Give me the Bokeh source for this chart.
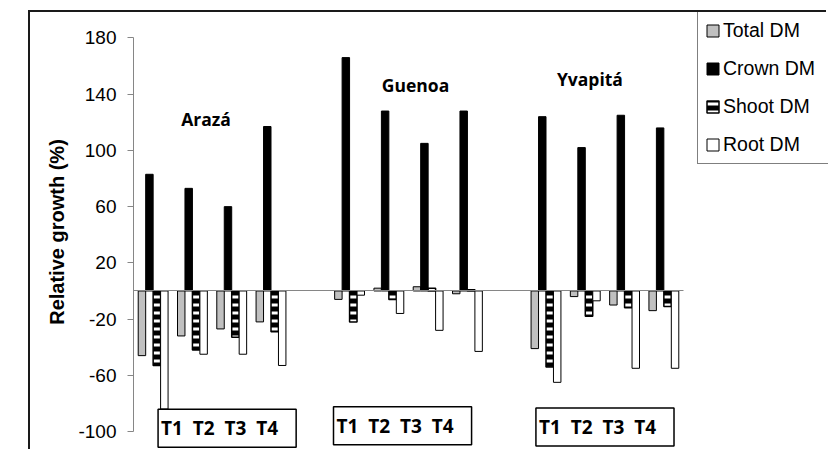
from bokeh.plotting import figure
from bokeh.models import (ColumnDataSource, Range1d, FixedTicker, Legend,
                          PrintfTickFormatter)
from bokeh.transform import dodge
from bokeh.core.properties import value
from bokeh.embed import file_html
from bokeh.resources import INLINE

# ---------------- data ----------------
groups = ["Arazá", "Guenoa", "Yvapitá"]
treatments = ["T1", "T2", "T3", "T4"]
series_names = ["Total DM", "Crown DM", "Shoot DM", "Root DM"]
total_dm = [-46, -32, -27, -22, -6, 2, 3, -2, -41, -4, -10, -14]
crown_dm = [83, 73, 60, 117, 166, 128, 105, 128, 124, 102, 125, 116]
shoot_dm = [-53, -42, -33, -29, -22, -6, 2, 0.8, -54, -18, -12, -11]
root_dm = [-84, -45, -45, -53, -3, -16, -28, -43, -65, -7, -55, -55]
y_ticks = [-100, -60, -20, 20, 60, 100, 140, 180]
y_axis_title = "Relative growth (%)"

# category slots: 4 treatments per group, one empty slot between groups
slot = len(treatments) + 1
xpos = [gi * slot + ti + 0.5 for gi in range(len(groups)) for ti in range(len(treatments))]
group_centers = [gi * slot + len(treatments) / 2 for gi in range(len(groups))]
n_slots = len(groups) * slot - 1

source = ColumnDataSource(dict(x=xpos, total=total_dm, crown=crown_dm,
                               shoot=shoot_dm, root=root_dm))

p = figure(width=798, height=439,
           x_range=Range1d(0, n_slots * 695 / 550),
           y_range=Range1d(-114.2, 198.1),
           output_backend="svg", toolbar_location=None,
           min_border_left=103, min_border_right=0,
           min_border_top=0, min_border_bottom=0)
p.margin = (12, 0, 0, 30)
p.styles = {"box-shadow": "-2px -2px 0 0 #1a1a1a"}
p.xgrid.visible = False
p.ygrid.visible = False
p.outline_line_color = None
p.background_fill_color = "white"
p.border_fill_color = "white"

# category axis drawn as the zero line
xa = p.xaxis[0]
xa.fixed_location = 0
xa.bounds = (0, n_slots)
xa.ticker = FixedTicker(ticks=[])
xa.major_tick_out = 0
xa.major_tick_in = 0
xa.minor_tick_out = 0
xa.minor_tick_in = 0
xa.major_label_standoff = 0
xa.major_label_text_font_size = "0px"
xa.axis_line_color = "#868686"
xa.axis_line_width = 1

# y axis
ax = p.yaxis[0]
ax.ticker = FixedTicker(ticks=y_ticks)
ax.formatter = PrintfTickFormatter(format="%d")
ax.bounds = (y_ticks[0], y_ticks[-1])
ax.major_tick_out = 6
ax.major_tick_in = 0
ax.minor_tick_out = 0
ax.minor_tick_in = 0
ax.axis_line_color = "#868686"
ax.major_tick_line_color = "#868686"
ax.major_label_text_font = "Liberation Sans"
ax.major_label_text_font_size = "19px"
ax.major_label_text_color = "black"
ax.major_label_standoff = 11
ax.axis_label = y_axis_title
ax.axis_label_text_font = "Liberation Sans"
ax.axis_label_text_font_style = "bold"
ax.axis_label_text_font_size = "20px"
ax.axis_label_text_color = "black"
ax.axis_label_standoff = 7

w = 0.19
r_total = p.vbar(x=dodge("x", -0.285), top="total", width=w, source=source,
                 fill_color="#C0C0C0", line_color="black", line_width=1)
r_crown = p.vbar(x=dodge("x", -0.095), top="crown", width=w, source=source,
                 fill_color="black", line_color="black", line_width=1)
r_shoot = p.vbar(x=dodge("x", 0.095), top="shoot", width=w, source=source,
                 fill_color="black", line_color="black", line_width=1.5,
                 hatch_pattern="horizontal_line", hatch_color="white",
                 hatch_scale=8, hatch_weight=3)
r_root = p.vbar(x=dodge("x", 0.285), top="root", width=w, source=source,
                fill_color="white", line_color="black", line_width=1)

# group names
p.text(x=group_centers, y=[122, 146.6, 150.8], text=groups, x_offset=[-6, 7, -15],
       text_align="center", text_baseline="middle",
       text_font=value("Open Sans"), text_font_style="bold", text_font_size="17.5px",
       text_color="black")

# treatment boxes
treat_text = "\u00a0\u00a0".join(treatments)
p.text(x=group_centers, y=[-97.6, -95.9, -96.8], text=[treat_text] * 3,
       x_offset=[-54, -75, -69],
       text_align="left", text_baseline="middle",
       text_font=value("Open Sans"), text_font_style="bold", text_font_size="19px",
       text_color="black",
       border_line_color="black", border_line_width=1.5,
       background_fill_color="white",
       padding=dict(left=3, right=18, top=6, bottom=6))

# legend
legend = Legend(items=[(series_names[0], [r_total]), (series_names[1], [r_crown]),
                       (series_names[2], [r_shoot]), (series_names[3], [r_root])],
                location=(564, 287), orientation="vertical",
                label_text_font="Liberation Sans", label_text_font_size="19.5px",
                label_text_color="black",
                glyph_width=15, glyph_height=15, label_standoff=3,
                spacing=15, padding=7, margin=0, label_width=100,
                border_line_color="black", border_line_width=1.5,
                background_fill_color="white", background_fill_alpha=1)
p.add_layout(legend)

open("out.html", "w").write(file_html(p, INLINE))
